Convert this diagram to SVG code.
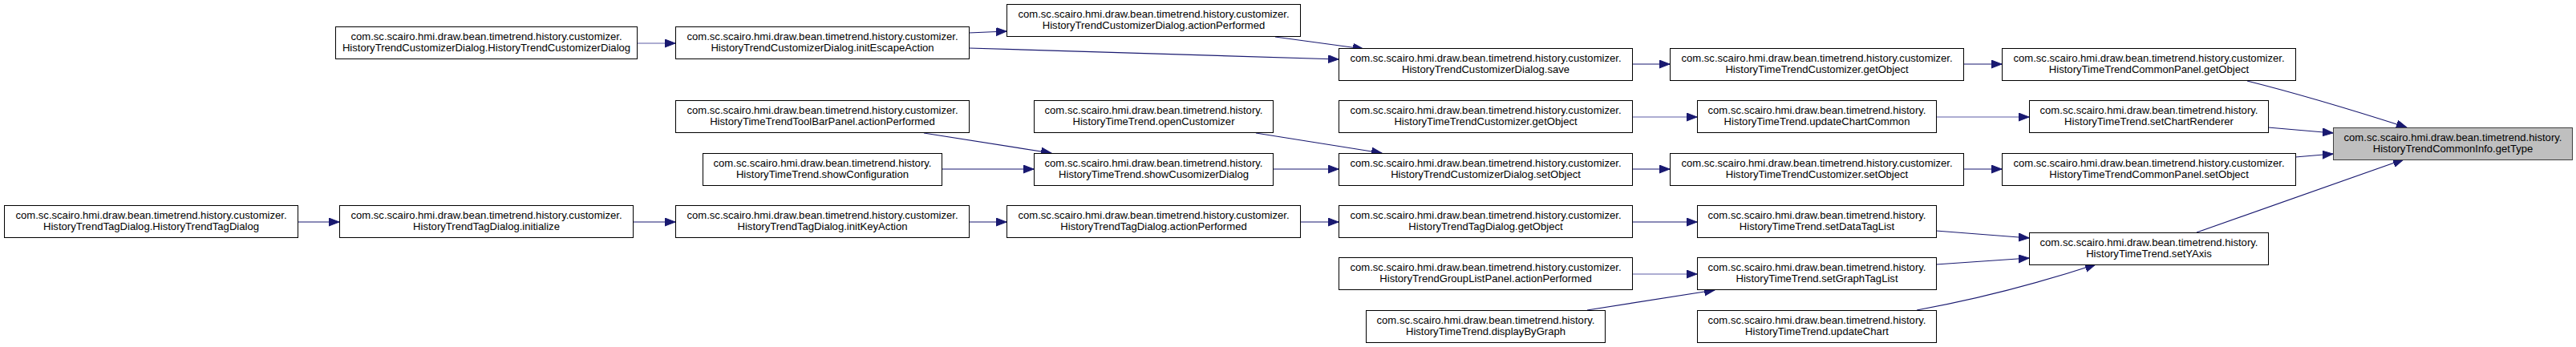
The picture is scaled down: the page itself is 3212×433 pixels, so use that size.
<svg xmlns="http://www.w3.org/2000/svg" width="3212" height="433" viewBox="0 0 3212 433">
<style>
.n rect{fill:#fff;stroke:#000;stroke-width:1}
.n.hl rect{fill:#bfbfbf;stroke:#404040}
.n text{font-family:"Liberation Sans",Arial,sans-serif;font-size:13.1px;fill:#000;text-anchor:middle}
.e path{fill:none;stroke:#191970;stroke-width:1.2}
.e path.lt{stroke:#5c5ca6}
</style>
<defs>
<marker id="ah" markerUnits="userSpaceOnUse" markerWidth="15" markerHeight="12" refX="13" refY="5" orient="auto">
<path d="M0,0 L13,5 L0,10 z" fill="#191970" stroke="#191970" stroke-width="1"/>
</marker>
</defs>
<rect width="3212" height="433" fill="#fff"/>
<g class="e" id="connectors" marker-end="url(#ah)">
<path class="lt" d="M794,54 L842,54" marker-end="url(#ah)"/>
<path d="M1208,41 L1255,39" marker-end="url(#ah)"/>
<path d="M1208,60 L1669,74" marker-end="url(#ah)"/>
<path d="M1590,46 L1700,61" marker-end="url(#ah)"/>
<path d="M2035,80 L2082,80" marker-end="url(#ah)"/>
<path d="M2448,80 L2496,80" marker-end="url(#ah)"/>
<path d="M2802,101 C2850,113 2920,133 3001,159" marker-end="url(#ah)"/>
<path class="lt" d="M2035,146 L2116,146" marker-end="url(#ah)"/>
<path class="lt" d="M2414,146 L2530,146" marker-end="url(#ah)"/>
<path d="M2828,159 L2909,166" marker-end="url(#ah)"/>
<path d="M1566,166 L1723,191" marker-end="url(#ah)"/>
<path d="M1587,211 L1669,211" marker-end="url(#ah)"/>
<path d="M2035,211 L2082,211" marker-end="url(#ah)"/>
<path d="M2448,211 L2496,211" marker-end="url(#ah)"/>
<path d="M2862,196 L2909,192" marker-end="url(#ah)"/>
<path d="M1152,166 L1311,191" marker-end="url(#ah)"/>
<path d="M1174,211 L1289,211" marker-end="url(#ah)"/>
<path d="M371,277 L423,277" marker-end="url(#ah)"/>
<path d="M789,277 L842,277" marker-end="url(#ah)"/>
<path d="M1208,277 L1255,277" marker-end="url(#ah)"/>
<path d="M1621,277 L1669,277" marker-end="url(#ah)"/>
<path d="M2035,277 L2116,277" marker-end="url(#ah)"/>
<path d="M2414,288 L2530,297" marker-end="url(#ah)"/>
<path class="lt" d="M2035,342 L2116,342" marker-end="url(#ah)"/>
<path d="M1979,387 L2138,362" marker-end="url(#ah)"/>
<path d="M2414,330 L2530,322" marker-end="url(#ah)"/>
<path d="M2390,387 Q2500,367 2613,330" marker-end="url(#ah)"/>
<path d="M2739,290 L2997,199" marker-end="url(#ah)"/>
</g>
<g class="n" id="n_htcd_ctor"><rect x="418.5" y="33.5" width="376" height="40"/><text x="606.5" y="49.5">com.sc.scairo.hmi.draw.bean.timetrend.history.customizer.</text><text x="606.5" y="63.5">HistoryTrendCustomizerDialog.HistoryTrendCustomizerDialog</text></g>
<g class="n" id="n_httd_ctor"><rect x="5.5" y="256.5" width="366" height="40"/><text x="188.5" y="272.5">com.sc.scairo.hmi.draw.bean.timetrend.history.customizer.</text><text x="188.5" y="286.5">HistoryTrendTagDialog.HistoryTrendTagDialog</text></g>
<g class="n" id="n_initialize"><rect x="423.5" y="256.5" width="366" height="40"/><text x="606.5" y="272.5">com.sc.scairo.hmi.draw.bean.timetrend.history.customizer.</text><text x="606.5" y="286.5">HistoryTrendTagDialog.initialize</text></g>
<g class="n" id="n_initEscapeAction"><rect x="842.5" y="33.5" width="366" height="40"/><text x="1025.5" y="49.5">com.sc.scairo.hmi.draw.bean.timetrend.history.customizer.</text><text x="1025.5" y="63.5">HistoryTrendCustomizerDialog.initEscapeAction</text></g>
<g class="n" id="n_toolbar_action"><rect x="842.5" y="125.5" width="366" height="40"/><text x="1025.5" y="141.5">com.sc.scairo.hmi.draw.bean.timetrend.history.customizer.</text><text x="1025.5" y="155.5">HistoryTimeTrendToolBarPanel.actionPerformed</text></g>
<g class="n" id="n_showConfiguration"><rect x="876.5" y="191.5" width="298" height="40"/><text x="1025.5" y="207.5">com.sc.scairo.hmi.draw.bean.timetrend.history.</text><text x="1025.5" y="221.5">HistoryTimeTrend.showConfiguration</text></g>
<g class="n" id="n_initKeyAction"><rect x="842.5" y="256.5" width="366" height="40"/><text x="1025.5" y="272.5">com.sc.scairo.hmi.draw.bean.timetrend.history.customizer.</text><text x="1025.5" y="286.5">HistoryTrendTagDialog.initKeyAction</text></g>
<g class="n" id="n_custdlg_action"><rect x="1255.5" y="5.5" width="366" height="40"/><text x="1438.5" y="21.5">com.sc.scairo.hmi.draw.bean.timetrend.history.customizer.</text><text x="1438.5" y="35.5">HistoryTrendCustomizerDialog.actionPerformed</text></g>
<g class="n" id="n_openCustomizer"><rect x="1289.5" y="125.5" width="298" height="40"/><text x="1438.5" y="141.5">com.sc.scairo.hmi.draw.bean.timetrend.history.</text><text x="1438.5" y="155.5">HistoryTimeTrend.openCustomizer</text></g>
<g class="n" id="n_showCusomizerDialog"><rect x="1289.5" y="191.5" width="298" height="40"/><text x="1438.5" y="207.5">com.sc.scairo.hmi.draw.bean.timetrend.history.</text><text x="1438.5" y="221.5">HistoryTimeTrend.showCusomizerDialog</text></g>
<g class="n" id="n_tagdlg_action"><rect x="1255.5" y="256.5" width="366" height="40"/><text x="1438.5" y="272.5">com.sc.scairo.hmi.draw.bean.timetrend.history.customizer.</text><text x="1438.5" y="286.5">HistoryTrendTagDialog.actionPerformed</text></g>
<g class="n" id="n_save"><rect x="1669.5" y="60.5" width="366" height="40"/><text x="1852.5" y="76.5">com.sc.scairo.hmi.draw.bean.timetrend.history.customizer.</text><text x="1852.5" y="90.5">HistoryTrendCustomizerDialog.save</text></g>
<g class="n" id="n_httc_getObject_a"><rect x="1669.5" y="125.5" width="366" height="40"/><text x="1852.5" y="141.5">com.sc.scairo.hmi.draw.bean.timetrend.history.customizer.</text><text x="1852.5" y="155.5">HistoryTimeTrendCustomizer.getObject</text></g>
<g class="n" id="n_custdlg_setObject"><rect x="1669.5" y="191.5" width="366" height="40"/><text x="1852.5" y="207.5">com.sc.scairo.hmi.draw.bean.timetrend.history.customizer.</text><text x="1852.5" y="221.5">HistoryTrendCustomizerDialog.setObject</text></g>
<g class="n" id="n_tagdlg_getObject"><rect x="1669.5" y="256.5" width="366" height="40"/><text x="1852.5" y="272.5">com.sc.scairo.hmi.draw.bean.timetrend.history.customizer.</text><text x="1852.5" y="286.5">HistoryTrendTagDialog.getObject</text></g>
<g class="n" id="n_grouplist_action"><rect x="1669.5" y="321.5" width="366" height="40"/><text x="1852.5" y="337.5">com.sc.scairo.hmi.draw.bean.timetrend.history.customizer.</text><text x="1852.5" y="351.5">HistoryTrendGroupListPanel.actionPerformed</text></g>
<g class="n" id="n_displayByGraph"><rect x="1703.5" y="387.5" width="298" height="40"/><text x="1852.5" y="403.5">com.sc.scairo.hmi.draw.bean.timetrend.history.</text><text x="1852.5" y="417.5">HistoryTimeTrend.displayByGraph</text></g>
<g class="n" id="n_httc_getObject_b"><rect x="2082.5" y="60.5" width="366" height="40"/><text x="2265.5" y="76.5">com.sc.scairo.hmi.draw.bean.timetrend.history.customizer.</text><text x="2265.5" y="90.5">HistoryTimeTrendCustomizer.getObject</text></g>
<g class="n" id="n_updateChartCommon"><rect x="2116.5" y="125.5" width="298" height="40"/><text x="2265.5" y="141.5">com.sc.scairo.hmi.draw.bean.timetrend.history.</text><text x="2265.5" y="155.5">HistoryTimeTrend.updateChartCommon</text></g>
<g class="n" id="n_httc_setObject"><rect x="2082.5" y="191.5" width="366" height="40"/><text x="2265.5" y="207.5">com.sc.scairo.hmi.draw.bean.timetrend.history.customizer.</text><text x="2265.5" y="221.5">HistoryTimeTrendCustomizer.setObject</text></g>
<g class="n" id="n_setDataTagList"><rect x="2116.5" y="256.5" width="298" height="40"/><text x="2265.5" y="272.5">com.sc.scairo.hmi.draw.bean.timetrend.history.</text><text x="2265.5" y="286.5">HistoryTimeTrend.setDataTagList</text></g>
<g class="n" id="n_setGraphTagList"><rect x="2116.5" y="321.5" width="298" height="40"/><text x="2265.5" y="337.5">com.sc.scairo.hmi.draw.bean.timetrend.history.</text><text x="2265.5" y="351.5">HistoryTimeTrend.setGraphTagList</text></g>
<g class="n" id="n_updateChart"><rect x="2116.5" y="387.5" width="298" height="40"/><text x="2265.5" y="403.5">com.sc.scairo.hmi.draw.bean.timetrend.history.</text><text x="2265.5" y="417.5">HistoryTimeTrend.updateChart</text></g>
<g class="n" id="n_commonpanel_getObject"><rect x="2496.5" y="60.5" width="366" height="40"/><text x="2679.5" y="76.5">com.sc.scairo.hmi.draw.bean.timetrend.history.customizer.</text><text x="2679.5" y="90.5">HistoryTimeTrendCommonPanel.getObject</text></g>
<g class="n" id="n_setChartRenderer"><rect x="2530.5" y="125.5" width="298" height="40"/><text x="2679.5" y="141.5">com.sc.scairo.hmi.draw.bean.timetrend.history.</text><text x="2679.5" y="155.5">HistoryTimeTrend.setChartRenderer</text></g>
<g class="n" id="n_commonpanel_setObject"><rect x="2496.5" y="191.5" width="366" height="40"/><text x="2679.5" y="207.5">com.sc.scairo.hmi.draw.bean.timetrend.history.customizer.</text><text x="2679.5" y="221.5">HistoryTimeTrendCommonPanel.setObject</text></g>
<g class="n" id="n_setYAxis"><rect x="2530.5" y="290.5" width="298" height="40"/><text x="2679.5" y="306.5">com.sc.scairo.hmi.draw.bean.timetrend.history.</text><text x="2679.5" y="320.5">HistoryTimeTrend.setYAxis</text></g>
<g class="n hl" id="n_getType"><rect x="2909.5" y="159.5" width="298" height="40"/><text x="3058.5" y="175.5">com.sc.scairo.hmi.draw.bean.timetrend.history.</text><text x="3058.5" y="189.5">HistoryTrendCommonInfo.getType</text></g>
</svg>
